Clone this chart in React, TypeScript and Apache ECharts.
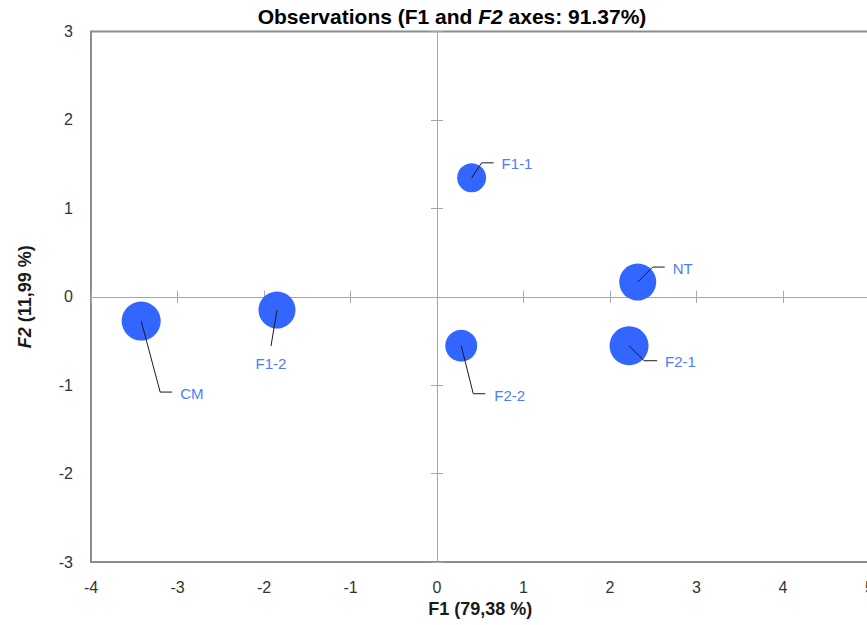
import { useEffect, useRef } from "react";
import * as echarts from "echarts";

// ---- data ----
const names = ["CM", "F1-2", "F1-1", "NT", "F2-2", "F2-1"];
const f1 = [-3.42, -1.85, 0.4, 2.32, 0.28, 2.22];
const f2 = [-0.275, -0.15, 1.345, 0.166, -0.554, -0.554];
const bubbleSize = [39, 37, 29, 37, 32, 39];
const xRange = [-4, 5];
const yRange = [-3, 3];

// ---- styles ----
const FONT = '"Liberation Sans", Arial, sans-serif';
const BUBBLE = "#3366ff";
const LABEL = "#4d7cff";
const AXIS_GRAY = "#a6a6a6";

// leader-line geometry (pixel offsets from the bubble centre)
const LEADERS: Record<string, { pts: number[][]; text: number[]; align: string }> = {
  CM: { pts: [[19, 71], [31, 71]], text: [39, 72], align: "left" },
  "F1-2": { pts: [[-6, 36]], text: [-6, 53], align: "center" },
  "F1-1": { pts: [[10, -15], [22, -15]], text: [30, -14], align: "left" },
  NT: { pts: [[15, -15], [27, -15]], text: [35, -14], align: "left" },
  "F2-2": { pts: [[12, 48], [24, 48]], text: [33, 50], align: "left" },
  "F2-1": { pts: [[15, 15], [28, 15]], text: [36, 16], align: "left" },
};

export default function App() {
  const ref = useRef<HTMLDivElement>(null);

  useEffect(() => {
    if (!ref.current) return;
    const chart = echarts.init(ref.current, null, { renderer: "svg" });

    const data = names.map((n, i) => ({ name: n, value: [f1[i], f2[i], bubbleSize[i]] }));

    const labelAxisX = {
      type: "value",
      min: xRange[0],
      max: xRange[1],
      interval: 1,
      position: "bottom",
      axisLine: { show: false, onZero: false },
      axisTick: { show: false },
      splitLine: { show: false },
      axisLabel: { color: "#333", fontSize: 16, fontFamily: FONT, margin: 17 },
      name: "F1 (79,38 %)",
      nameLocation: "middle",
      nameGap: 36,
      nameTextStyle: { fontWeight: "bold", fontSize: 18, color: "#1a1a1a", fontFamily: FONT },
    };
    const zeroAxisX = (inside: boolean) => ({
      type: "value",
      min: xRange[0],
      max: xRange[1],
      interval: 1,
      position: "bottom",
      axisLine: { show: true, onZero: true, onZeroAxisIndex: 0, lineStyle: { color: AXIS_GRAY, width: 1 } },
      axisTick: { show: true, inside, length: 6, lineStyle: { color: AXIS_GRAY, width: 1 } },
      axisLabel: { show: false },
      splitLine: { show: false },
    });
    const labelAxisY = {
      type: "value",
      min: yRange[0],
      max: yRange[1],
      interval: 1,
      position: "left",
      axisLine: { show: false, onZero: false },
      axisTick: { show: false },
      splitLine: { show: false },
      axisLabel: { color: "#333", fontSize: 16, fontFamily: FONT, margin: 18 },
      name: "{bi|F2}{b| (11,99 %)}",
      nameLocation: "middle",
      nameGap: 57,
      nameTextStyle: {
        fontWeight: "bold",
        fontSize: 18,
        color: "#1a1a1a",
        fontFamily: FONT,
        rich: {
          b: { fontWeight: "bold", fontSize: 18, color: "#1a1a1a", fontFamily: FONT },
          bi: { fontWeight: "bold", fontStyle: "italic", fontSize: 18, color: "#1a1a1a", fontFamily: FONT },
        },
      },
    };
    const zeroAxisY = (inside: boolean) => ({
      type: "value",
      min: yRange[0],
      max: yRange[1],
      interval: 1,
      position: "left",
      axisLine: { show: true, onZero: true, onZeroAxisIndex: 0, lineStyle: { color: AXIS_GRAY, width: 1 } },
      axisTick: { show: true, inside, length: 6, lineStyle: { color: AXIS_GRAY, width: 1 } },
      axisLabel: { show: false },
      splitLine: { show: false },
    });

    chart.setOption({
      animation: false,
      backgroundColor: "#ffffff",
      title: {
        text: "{b|Observations (F1 and }{bi|F2}{b| axes: 91.37%)}",
        left: 447,
        top: 1,
        textAlign: "center",
        textStyle: {
          fontSize: 21,
          fontWeight: "bold",
          fontFamily: FONT,
          rich: {
            b: { fontWeight: "bold", fontSize: 21, color: "#000", fontFamily: FONT },
            bi: { fontWeight: "bold", fontStyle: "italic", fontSize: 21, color: "#000", fontFamily: FONT },
          },
        },
      },
      grid: {
        left: 91,
        top: 31.5,
        right: 2.5,
        bottom: 63,
        show: true,
        borderColor: "#8c8c8c",
        borderWidth: 2,
        backgroundColor: "transparent",
      },
      xAxis: [labelAxisX, zeroAxisX(true), zeroAxisX(false)],
      yAxis: [labelAxisY, zeroAxisY(true), zeroAxisY(false)],
      series: [
        {
          type: "custom",
          xAxisIndex: 0,
          yAxisIndex: 0,
          data,
          renderItem: (params: any, api: any) => {
            const i = params.dataIndex;
            const c = api.coord([api.value(0), api.value(1)]);
            const r = api.value(2) / 2;
            const L = LEADERS[names[i]];
            const points = [c, ...L.pts.map((p) => [c[0] + p[0], c[1] + p[1]])];
            return {
              type: "group",
              children: [
                { type: "circle", shape: { cx: c[0], cy: c[1], r }, style: { fill: BUBBLE } },
                {
                  type: "polyline",
                  shape: { points },
                  style: { stroke: "#1a1a1a", lineWidth: 1, fill: null },
                },
                {
                  type: "text",
                  x: c[0] + L.text[0],
                  y: c[1] + L.text[1],
                  style: {
                    text: names[i],
                    fill: LABEL,
                    font: `15px ${FONT}`,
                    textAlign: L.align,
                    textVerticalAlign: "middle",
                    align: L.align,
                    verticalAlign: "middle",
                  },
                },
              ],
            };
          },
        },
      ],
    });

    return () => chart.dispose();
  }, []);

  return (
    <div
      ref={ref}
      style={{ position: "fixed", left: 0, top: 0, width: 877, height: 625 }}
    />
  );
}
